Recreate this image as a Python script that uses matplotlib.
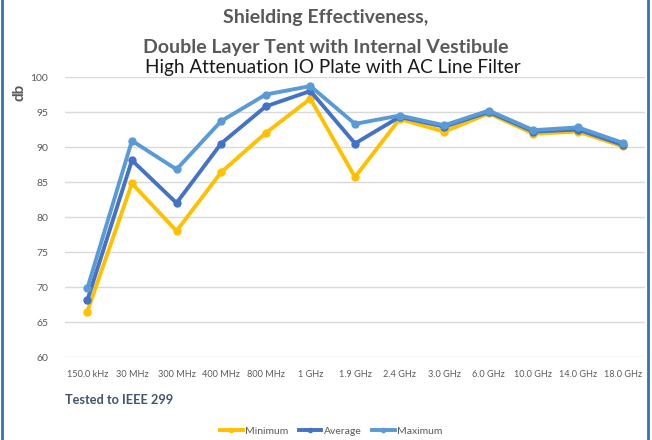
import matplotlib.pyplot as plt
from matplotlib.patches import Rectangle
import numpy as np

frequencies = ["150.0 kHz", "30 MHz", "300 MHz", "400 MHz", "800 MHz", "1 GHz",
               "1.9 GHz", "2.4 GHz", "3.0 GHz", "6.0 GHz", "10.0 GHz", "14.0 GHz", "18.0 GHz"]
minimum = [66.5, 84.8, 78.0, 86.4, 92.0, 96.9, 85.7, 94.0, 92.2, 94.8, 91.9, 92.2, 90.1]
average = [68.1, 88.1, 82.0, 90.5, 95.8, 98.0, 90.5, 94.3, 92.9, 95.0, 92.2, 92.5, 90.3]
maximum = [69.8, 90.9, 86.8, 93.7, 97.5, 98.7, 93.3, 94.5, 93.1, 95.2, 92.4, 92.8, 90.6]

series_names = ["Minimum", "Average", "Maximum"]
colors = ["#FFC000", "#4472C4", "#5B9BD5"]

plt.rcParams['font.family'] = ['Lato', 'DejaVu Sans']

fig = plt.figure(figsize=(6.52, 4.4), dpi=100)
ax = fig.add_axes([65 / 652, 1 - 357 / 440, 580 / 652, 280 / 440])

x = np.arange(len(frequencies))
for vals, name, c in zip([minimum, average, maximum], series_names, colors):
    ax.plot(x, vals, color=c, lw=2.8, marker='o', ms=5, label=name, solid_joinstyle='round')

ax.set_xlim(-0.5, len(frequencies) - 0.5)
ax.set_ylim(60, 100)
ax.set_yticks(range(60, 101, 5))
ax.set_xticks(x)
ax.set_xticklabels(frequencies)
ax.tick_params(axis='both', length=0, labelsize=7.5, colors='#595959')
ax.tick_params(axis='x', labelsize=6.6, pad=9)
ax.tick_params(axis='y', pad=12)
ax.grid(axis='y', color='#D9D9D9', lw=1)
ax.set_axisbelow(True)
for s in ax.spines.values():
    s.set_visible(False)

fig.text(0.5, 1 - 18 / 440, "Shielding Effectiveness,", ha='center', va='center',
         fontsize=14, fontweight='bold', color='#595959')
fig.text(0.5, 1 - 47 / 440, "Double Layer Tent with Internal Vestibule", ha='center', va='center',
         fontsize=14, fontweight='bold', color='#595959')
fig.text(333 / 652, 1 - 68 / 440, "High Attenuation IO Plate with AC Line Filter", ha='center', va='center',
         fontsize=13.6, color='#1a1a1a')
fig.text(20 / 652, 1 - 92 / 440, "db", rotation=90, ha='center', va='center',
         fontsize=11, fontweight='bold', color='#595959')
fig.text(65 / 652, 1 - 400 / 440, "Tested to IEEE 299", ha='left', va='center',
         fontsize=9.2, fontweight='bold', color='#44546A')

handles, labels = ax.get_legend_handles_labels()
fig.legend(handles, labels, loc='center', bbox_to_anchor=(331 / 652, 1 - 431 / 440),
           ncol=3, frameon=False, fontsize=7.5, handlelength=2.2, columnspacing=1.0,
           handletextpad=0.2, labelcolor='#595959', markerscale=0.6)

fig.patches.append(Rectangle((2 / 652, -0.01), 646 / 652, 1.05, transform=fig.transFigure,
                             fill=False, edgecolor='#2E75B6', lw=2))

fig.savefig("out.png", dpi=100)
